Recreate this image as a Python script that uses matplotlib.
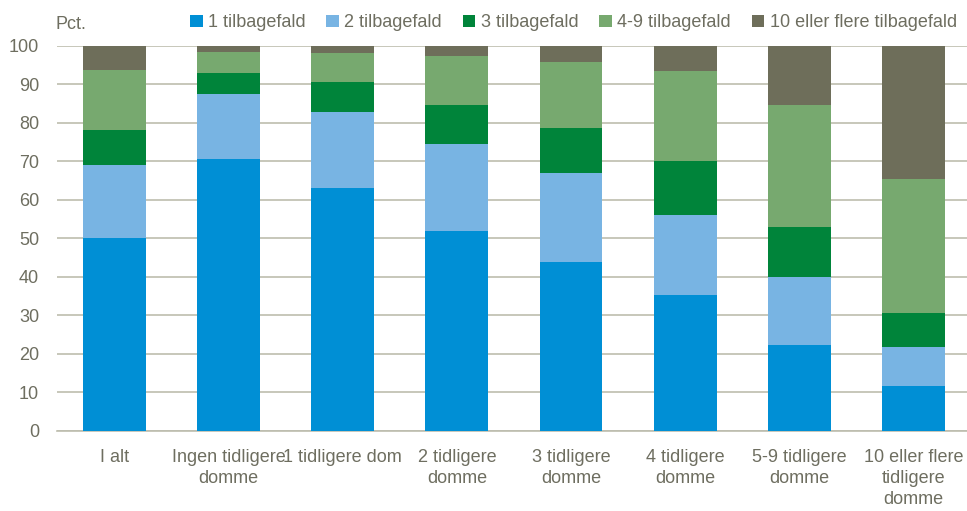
import numpy as np
import matplotlib.pyplot as plt

plt.rcParams['font.family'] = ['Liberation Sans', 'DejaVu Sans']

# Data ------------------------------------------------------------
categories = ['I alt', 'Ingen tidligere\ndomme', '1 tidligere dom',
              '2 tidligere\ndomme', '3 tidligere\ndomme', '4 tidligere\ndomme',
              '5-9 tidligere\ndomme', '10 eller flere\ntidligere\ndomme']
series = ['1 tilbagefald', '2 tilbagefald', '3 tilbagefald',
          '4-9 tilbagefald', '10 eller flere tilbagefald']
one = [50.2, 70.7, 63.1, 51.9, 43.9, 35.3, 22.3, 11.8]
two = [18.9, 16.8, 19.8, 22.6, 23.1, 20.8, 17.8, 10.1]
three = [9.1, 5.4, 7.7, 10.3, 11.7, 14.1, 12.9, 8.7]
four_nine = [15.5, 5.6, 7.7, 12.5, 17.1, 23.3, 31.7, 34.9]
ten_plus = [6.3, 1.5, 1.7, 2.7, 4.2, 6.5, 15.3, 34.5]
colors = ['#008FD5', '#78B4E3', '#00843A', '#77A96F', '#6E6E5A']
# ----------------------------------------------------------------

txt = '#6E6E60'
grid = '#BDBDAE'

fig = plt.figure(figsize=(9.67, 5.11), dpi=100)
ax = fig.add_axes([0.059, 0.1566, 0.945, 0.7534])

x = np.arange(len(categories))
bottom = np.zeros(len(categories))
for vals, name, c in zip([one, two, three, four_nine, ten_plus], series, colors):
    ax.bar(x, vals, width=0.55, bottom=bottom, color=c, label=name, zorder=3)
    bottom += np.array(vals)

ax.set_xlim(-0.5, 7.5)
ax.set_ylim(0, 100)
ax.set_yticks(range(0, 101, 10))
ax.set_xticks(x)
ax.set_xticklabels(categories, linespacing=1.3)
ax.yaxis.grid(True, color=grid, linewidth=1.2, zorder=0)
for s in ['top', 'right', 'left']:
    ax.spines[s].set_visible(False)
ax.spines['bottom'].set_color(grid)
ax.spines['bottom'].set_linewidth(1.2)
ax.tick_params(axis='both', length=0, colors=txt, labelsize=13)
ax.tick_params(axis='x', pad=13)
ax.tick_params(axis='y', pad=13)

fig.text(0.057, 0.953, 'Pct.', color=txt, fontsize=13, va='center')
leg = fig.legend(loc='center', bbox_to_anchor=(0.593, 0.955), ncol=5, frameon=False,
                 fontsize=13, handlelength=0.7, handleheight=0.7, handletextpad=0.3,
                 columnspacing=1.15, labelcolor=txt)

fig.savefig('out.png', dpi=100)
